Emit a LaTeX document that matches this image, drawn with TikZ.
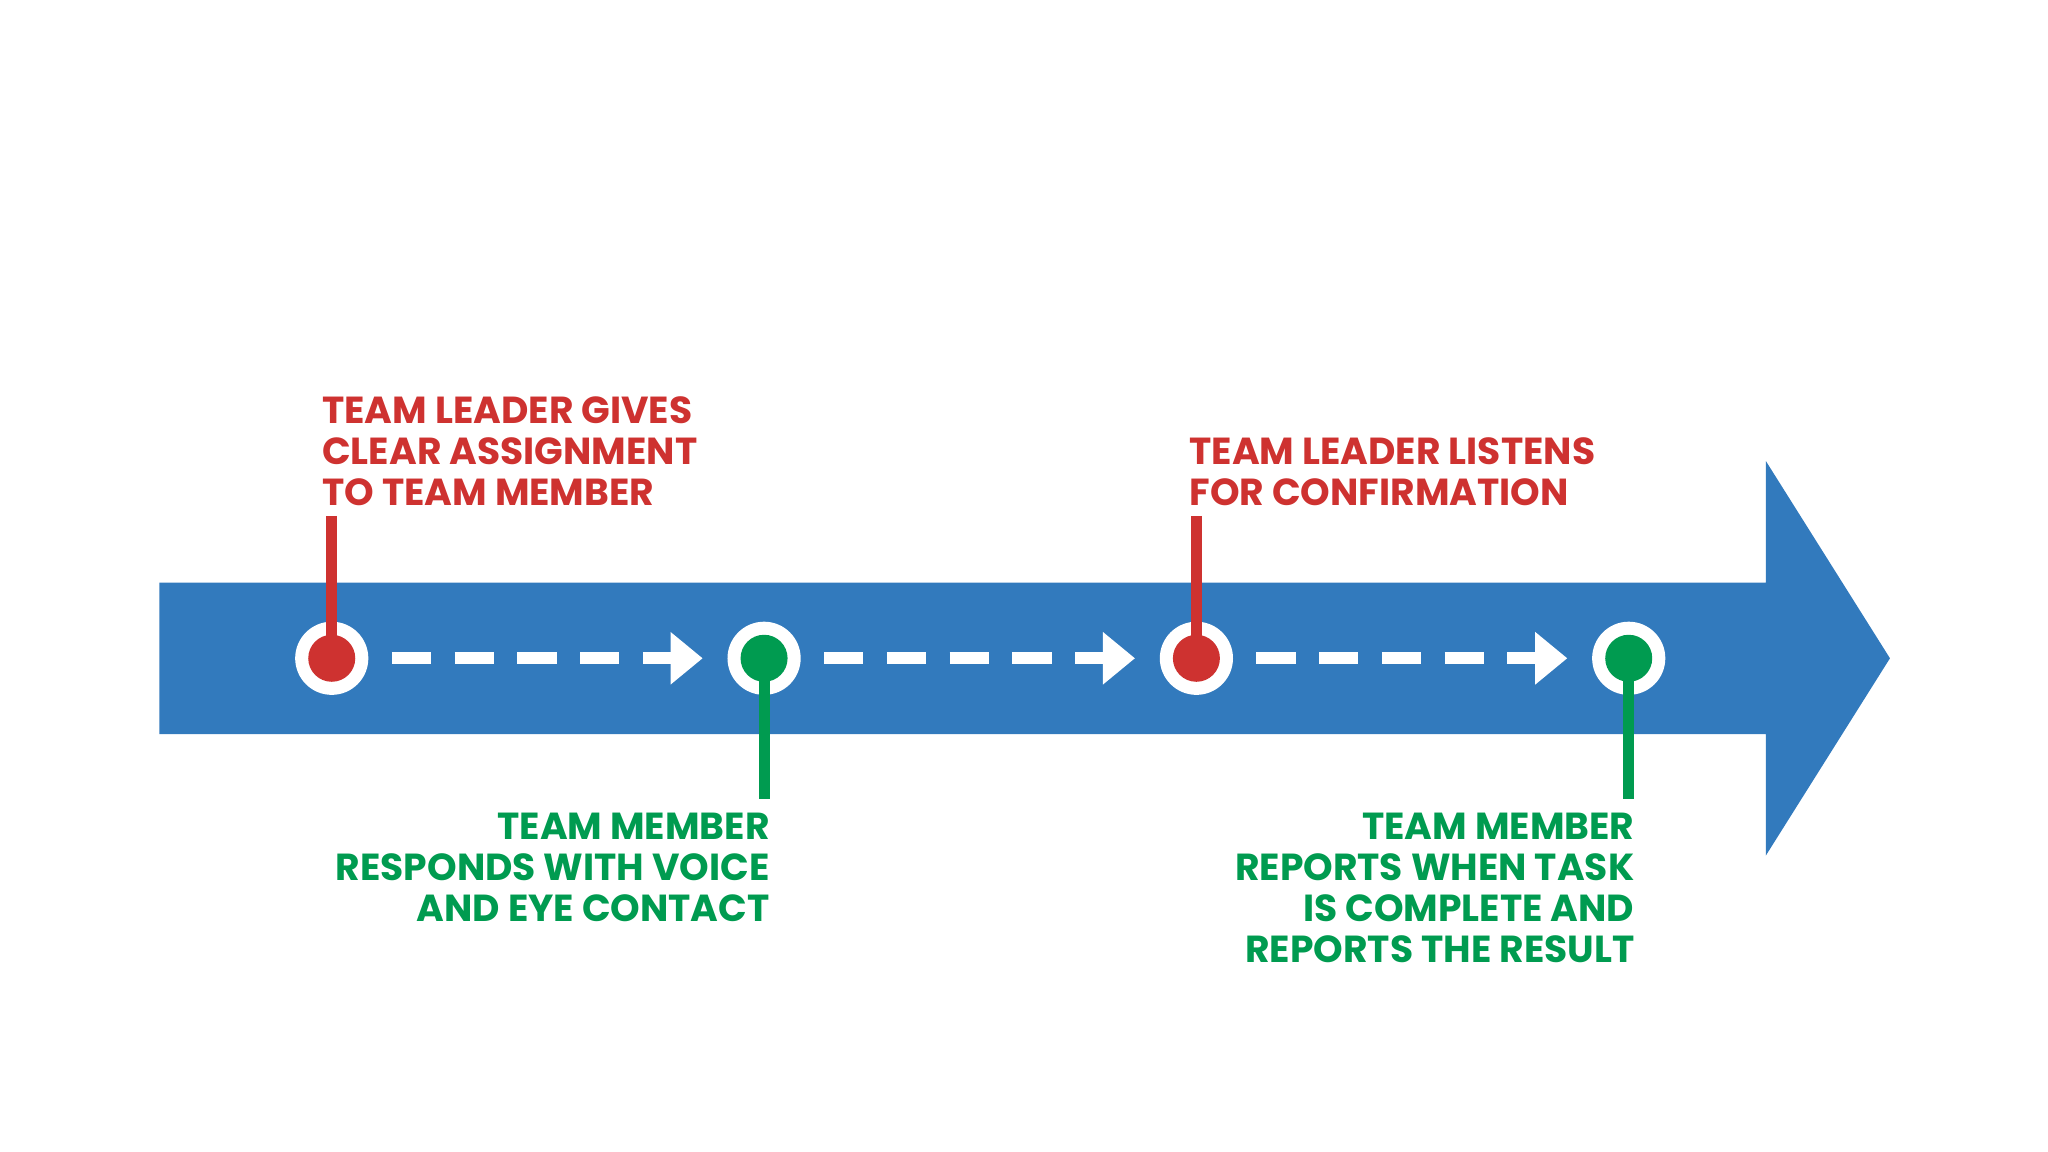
\documentclass[tikz,border=0pt]{standalone}
\usepackage{fontspec}
\setmainfont{Poppins}[BoldFont={* Bold}]
\usetikzlibrary{arrows.meta}
\definecolor{rd}{RGB}{206,50,48}
\definecolor{gn}{RGB}{0,155,80}
\definecolor{bl}{RGB}{50,122,189}
\begin{document}
\begin{tikzpicture}[x=0.01cm,y=-0.01cm,
  lbl/.style={font=\bfseries\fontsize{8.2}{8.9}\selectfont,inner sep=0pt,align=left},
  dashline/.style={white,line width=2.6pt,dash pattern=on 0.3cm off 0.18cm,-{Triangle[length=7pt,width=11pt]}},
  stem/.style={line width=2.4pt},
  ring/.style={circle,fill=white,minimum size=0.56cm,inner sep=0pt}]
\useasboundingbox (0,0) rectangle (1568,882);
\fill[bl] (122,446) -- (1352,446) -- (1352,353) -- (1447,504) -- (1352,655) -- (1352,562) -- (122,562) -- cycle;
\foreach \n/\x in {a/254,b/585,c/916,d/1247}{
  \node[ring] (\n) at (\x,504) {};
}
\coordinate (ta) at (254,395); \coordinate (tc) at (916,395);
\coordinate (tb) at (585,612); \coordinate (td) at (1247,612);
\draw[stem,rd] (ta) -- (a.center);
\draw[stem,rd] (tc) -- (c.center);
\draw[stem,gn] (b.center) -- (tb);
\draw[stem,gn] (d.center) -- (td);
\fill[rd] (a) circle (18); \fill[rd] (c) circle (18);
\fill[gn] (b) circle (18); \fill[gn] (d) circle (18);
\draw[dashline] (300,504) -- (538,504);
\draw[dashline] (631,504) -- (869,504);
\draw[dashline] (962,504) -- (1200,504);
\node[lbl,rd,anchor=south west] (la) at (246,388) {TEAM LEADER GIVES\\CLEAR ASSIGNMENT\\TO TEAM MEMBER};
\node[lbl,rd,anchor=south west] (lc) at (910,388) {TEAM LEADER LISTENS\\FOR CONFIRMATION};
\node[lbl,gn,anchor=north east,align=right] (lb) at (590,622) {TEAM MEMBER\\RESPONDS WITH VOICE\\AND EYE CONTACT};
\node[lbl,gn,anchor=north east,align=right] (ld) at (1252,622) {TEAM MEMBER\\REPORTS WHEN TASK\\IS COMPLETE AND\\REPORTS THE RESULT};
\end{tikzpicture}
\end{document}
